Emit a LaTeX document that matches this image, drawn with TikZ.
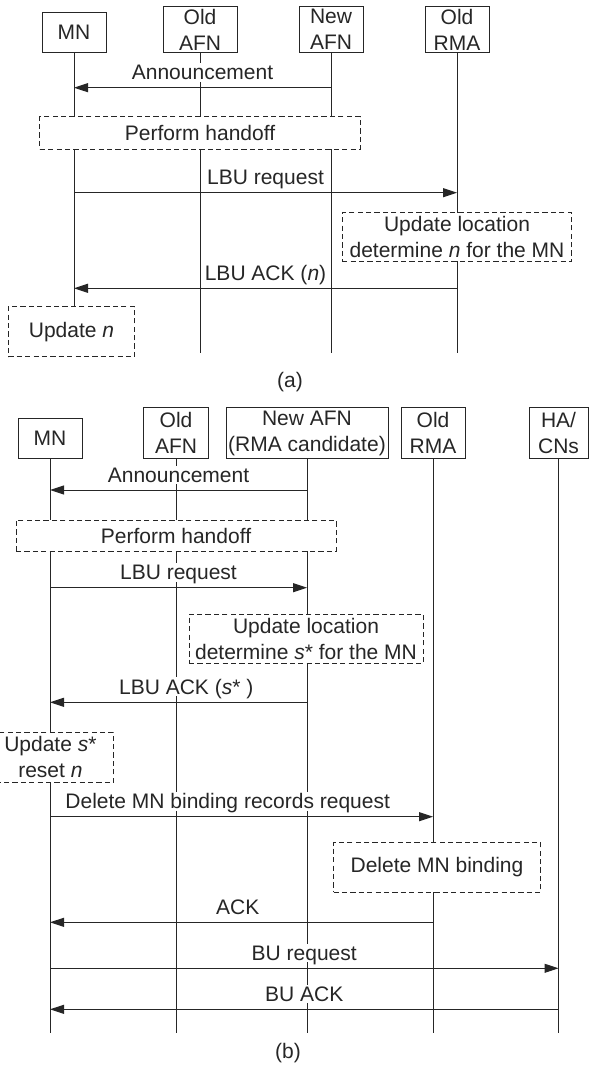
\documentclass[tikz,border=0pt]{standalone}
\usepackage{fontspec}
\setmainfont{Liberation Sans}
\usetikzlibrary{arrows.meta}

\begin{document}
\begin{tikzpicture}[x=0.5pt,y=-0.5pt,color=black!85,line width=0.5pt,
  font=\fontsize{10.5}{13}\selectfont,
  ent/.style={draw,align=center,inner sep=0pt,anchor=south},
  act/.style={draw,dash pattern=on 2.6pt off 1.6pt,fill=white,align=center,inner sep=0pt},
  msg/.style={-{Triangle[length=7pt,width=4.5pt]}},
  lbl/.style={fill=white,inner sep=1pt,text depth=0pt,above=2.7pt}]
\useasboundingbox (0,0) rectangle (590,1068);

\node[ent,minimum width=32pt,minimum height=19.6pt] (mna) at (74,52.7) {MN};
\node[ent,minimum width=37pt,minimum height=22.6pt] (oafna) at (200,52.7) {Old\\AFN};
\node[ent,minimum width=32pt,minimum height=22.6pt] (nafna) at (331,52.7) {New\\AFN};
\node[ent,minimum width=32pt,minimum height=22.6pt] (ormaa) at (457,52.7) {Old\\RMA};
\coordinate (enda) at (0,353.5);
\foreach \n in {mna,oafna,nafna,ormaa}
  \draw (\n.south) -- (\n.south |- enda);
\draw[msg] (nafna |- 0,87.7) -- node[lbl]{Announcement} (mna |- 0,87.7);
\node[act,minimum width=160.2pt,minimum height=16.2pt] (hoa) at (200,133) {Perform handoff};
\draw[msg] (mna |- 0,192.7) -- node[lbl]{LBU request} (ormaa |- 0,192.7);
\node[act,minimum width=114.8pt,minimum height=24.3pt] (ula) at (457,237) {Update location\\determine \textit{n} for the MN};
\draw[msg] (ormaa |- 0,288.3) -- node[lbl]{LBU ACK (\textit{n})} (mna |- 0,288.3);
\node[act,minimum width=63.2pt,minimum height=25pt] (una) at (71.5,331.7) {Update \textit{n}};
\node (capa) at (290,381.7) {(a)};

\node[ent,minimum width=32pt,minimum height=20pt] (mnb) at (50,459) {MN};
\node[ent,minimum width=32.5pt,minimum height=25.3pt] (oafnb) at (176,459) {Old\\AFN};
\node[ent,minimum width=81pt,minimum height=25.3pt] (nafnb) at (307,459) {New AFN\\(RMA candidate)};
\node[ent,minimum width=32pt,minimum height=25.3pt] (ormab) at (433,459) {Old\\RMA};
\node[ent,minimum width=29.5pt,minimum height=25.3pt] (hab) at (558.5,459) {HA/\\CNs};
\coordinate (endb) at (0,1032.7);
\foreach \n in {mnb,oafnb,nafnb,ormab,hab}
  \draw (\n.south) -- (\n.south |- endb);
\draw[msg] (nafnb |- 0,490) -- node[lbl]{Announcement} (mnb |- 0,490);
\node[act,minimum width=160pt,minimum height=15.5pt] (hob) at (176,535.5) {Perform handoff};
\draw[msg] (mnb |- 0,587.7) -- node[lbl]{LBU request} (nafnb |- 0,587.7);
\node[act,minimum width=117pt,minimum height=24.6pt] (ulb) at (306,638.7) {Update location\\determine \textit{s}* for the MN};
\draw[msg] (nafnb |- 0,702.3) -- node[lbl,pos=0.47]{LBU ACK (\textit{s}* )} (mnb |- 0,702.3);
\node[act,minimum width=63.2pt,minimum height=25pt] (usb) at (50.4,757.3) {Update \textit{s}*\\reset \textit{n}};
\draw[msg] (mnb |- 0,816.7) -- node[lbl,pos=0.464]{Delete MN binding records request} (ormab |- 0,816.7);
\node[act,minimum width=103.5pt,minimum height=25pt] (dbb) at (437,867.3) {Delete MN binding};
\draw[msg] (ormab |- 0,922.3) -- node[lbl,pos=0.51]{ACK} (mnb |- 0,922.3);
\draw[msg] (mnb |- 0,968.3) -- node[lbl]{BU request} (hab |- 0,968.3);
\draw[msg] (hab |- 0,1009.3) -- node[lbl]{BU ACK} (mnb |- 0,1009.3);
\node (capb) at (288,1053.3) {(b)};
\end{tikzpicture}
\end{document}
